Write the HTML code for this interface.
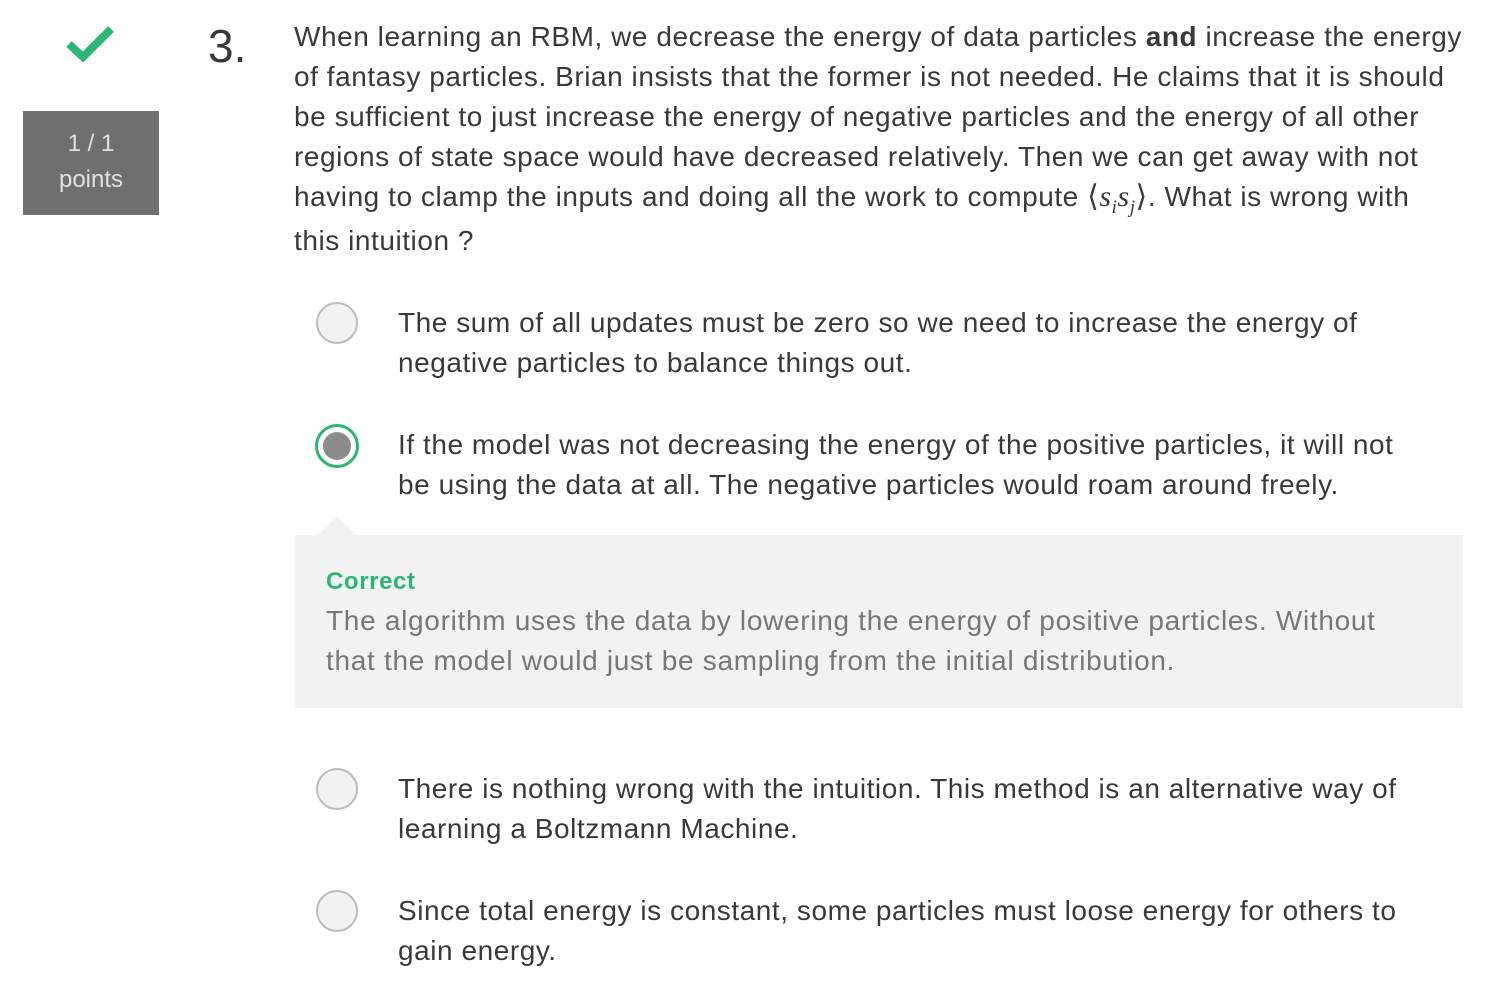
<!DOCTYPE html>
<html><head><meta charset="utf-8">
<style>
body{margin:0;width:1496px;height:998px;background:#fff;font-family:"Liberation Sans",sans-serif;color:#373a3c;position:relative;overflow:hidden}
.l{position:absolute;white-space:nowrap;font-size:28px;line-height:40px;letter-spacing:0.55px}
.radio{position:absolute;width:42px;height:42px;border:2px solid #bdbdbd;border-radius:50%;background:#f2f2f2;box-sizing:border-box}
</style></head><body>
<svg style="position:absolute;left:66px;top:24px" width="48" height="38" viewBox="0 0 48 38"><path d="M3 20 L17 33 L45 5" stroke="#2bb673" stroke-width="8" fill="none"/></svg>
<div style="position:absolute;left:23px;top:111px;width:136px;height:104px;background:#6f6f6f;color:#e0e0e0;font-size:24px;text-align:center;line-height:36px;padding-top:15px;box-sizing:border-box">1 / 1<br>points</div>
<div class="l" style="left:208px;top:20px;font-size:46px;line-height:52px;letter-spacing:0">3.</div>
<div>
<div class="l" style="left:294px;top:17px">When learning an RBM, we decrease the energy of data particles <b>and</b> increase the energy</div>
<div class="l" style="left:294px;top:57px">of fantasy particles. Brian insists that the former is not needed. He claims that it is should</div>
<div class="l" style="left:294px;top:97px">be sufficient to just increase the energy of negative particles and the energy of all other</div>
<div class="l" style="left:294px;top:137px">regions of state space would have decreased relatively. Then we can get away with not</div>
<div class="l" style="left:294px;top:177px">having to clamp the inputs and doing all the work to compute <span style="font-family:'Liberation Serif',serif;font-size:30px">⟨<i>s<sub style="font-size:19px">i</sub>s<sub style="font-size:19px">j</sub></i>⟩</span>. What is wrong with</div>
<div class="l" style="left:294px;top:221px">this intuition ?</div>
</div>
<div class="radio" style="left:316px;top:302px"></div>
<div>
<div class="l" style="left:398px;top:303px">The sum of all updates must be zero so we need to increase the energy of</div>
<div class="l" style="left:398px;top:343px">negative particles to balance things out.</div></div>
<div style="position:absolute;left:315px;top:424px;width:44px;height:44px;border:3px solid #2bb673;border-radius:50%;box-sizing:border-box;background:#fff"><div style="position:absolute;left:5px;top:5px;width:28px;height:28px;border-radius:50%;background:#8c8c8c"></div></div>
<div>
<div class="l" style="left:398px;top:425px">If the model was not decreasing the energy of the positive particles, it will not</div>
<div class="l" style="left:398px;top:465px">be using the data at all. The negative particles would roam around freely.</div></div>
<div style="position:absolute;left:318px;top:516px;width:0;height:0;border-left:19px solid transparent;border-right:19px solid transparent;border-bottom:19px solid #f2f2f2"></div>
<div style="position:absolute;left:295px;top:535px;width:1168px;height:173px;background:#f2f2f2">
<div class="l" style="left:31px;top:27px;font-size:24px;color:#2bb673;font-weight:bold;letter-spacing:0.6px">Correct</div>
<div class="l" style="left:31px;top:66px;color:#777;letter-spacing:0.7px">The algorithm uses the data by lowering the energy of positive particles. Without</div>
<div class="l" style="left:31px;top:106px;color:#777;letter-spacing:0.7px">that the model would just be sampling from the initial distribution.</div>
</div>
<div class="radio" style="left:316px;top:768px"></div>
<div>
<div class="l" style="left:398px;top:769px">There is nothing wrong with the intuition. This method is an alternative way of</div>
<div class="l" style="left:398px;top:809px">learning a Boltzmann Machine.</div></div>
<div class="radio" style="left:316px;top:890px"></div>
<div>
<div class="l" style="left:398px;top:891px">Since total energy is constant, some particles must loose energy for others to</div>
<div class="l" style="left:398px;top:931px">gain energy.</div></div>
</body></html>
